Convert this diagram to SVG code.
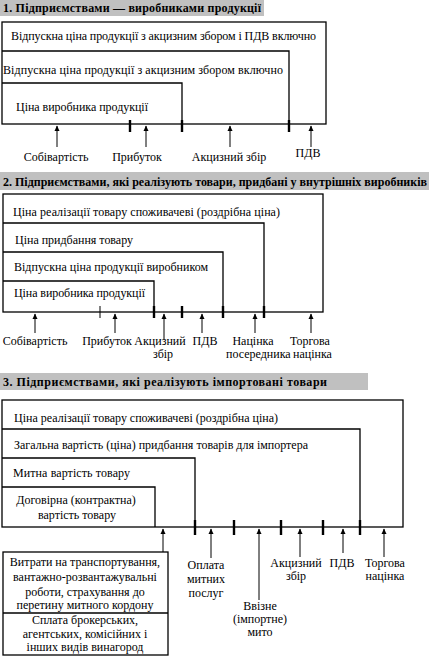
<svg xmlns="http://www.w3.org/2000/svg" width="429" height="658" viewBox="0 0 429 658" font-family="'Liberation Serif', 'DejaVu Serif', serif">
<defs>
<marker id="ah" markerWidth="6" markerHeight="6" refX="5" refY="3" orient="auto" markerUnits="userSpaceOnUse">
<path d="M0,0.5 L5.5,3 L0,5.5 z" fill="#000"/>
</marker>
<style>
text{font-family:'Liberation Serif','DejaVu Serif',serif;font-size:12px;fill:#000}
.t{font-weight:bold}
.c{text-anchor:middle}
.bx{fill:none;stroke:#000;stroke-width:1.3}
.ln{fill:none;stroke:#000;stroke-width:1.3}
.tk{stroke:#000;stroke-width:2.4}
.ar{stroke:#000;stroke-width:1;marker-end:url(#ah)}
.thin{stroke:#000;stroke-width:1}
.hd{fill:#c0c0c0}
</style>
</defs>
<rect width="429" height="658" fill="#fff"/>

<g id="section1">
<g id="s1-title"><rect class="hd" x="0" y="0" width="264" height="16"/><text class="t" x="3" y="12" textLength="258" lengthAdjust="spacing">1. Підприємствами — виробниками продукції</text></g>
<g id="s1-box1"><rect class="bx" x="2" y="22" width="324" height="102"/><text x="11" y="40" textLength="305" lengthAdjust="spacing">Відпускна ціна продукції з акцизним збором і ПДВ включно</text></g>
<g id="s1-box2"><path class="ln" d="M2,51 H289 V132"/><text x="3" y="74" textLength="280" lengthAdjust="spacing">Відпускна ціна продукції з акцизним збором включно</text></g>
<g id="s1-box3"><path class="ln" d="M2,83 H182 V132"/><text x="16" y="111" textLength="132" lengthAdjust="spacing">Ціна виробника продукції</text></g>
</g>

<g id="section2">
<g id="s2-title"><rect class="hd" x="0" y="172" width="429" height="18"/><text class="t" x="3" y="186" textLength="424" lengthAdjust="spacing">2. Підприємствами, які реалізують товари, придбані у внутрішніх виробників</text></g>
<g id="s2-box1"><rect class="bx" x="3" y="194" width="320" height="118"/><text x="13" y="216" textLength="267" lengthAdjust="spacing">Ціна реалізації товару споживачеві (роздрібна ціна)</text></g>
<g id="s2-box2"><path class="ln" d="M3,223 H264 V318"/><text x="15" y="244" textLength="118" lengthAdjust="spacing">Ціна придбання товару</text></g>
<g id="s2-box3"><path class="ln" d="M3,252 H223 V318"/><text x="14" y="271" textLength="194" lengthAdjust="spacing">Відпускна ціна продукції виробником</text></g>
<g id="s2-box4"><path class="ln" d="M3,281 H154 V318"/><text x="14" y="297" textLength="131" lengthAdjust="spacing">Ціна виробника продукції</text></g>
</g>

<g id="section3">
<g id="s3-title"><rect class="hd" x="0" y="373" width="368" height="17"/><text class="t" x="3" y="386" textLength="324" lengthAdjust="spacing">3. Підприємствами, які реалізують імпортовані товари</text></g>
<g id="s3-box1"><rect class="bx" x="2" y="400" width="401" height="127"/><text x="14" y="422" textLength="264" lengthAdjust="spacing">Ціна реалізації товару споживачеві (роздрібна ціна)</text></g>
<g id="s3-box2"><path class="ln" d="M2,429 H360 V535"/><text x="14" y="449" textLength="294" lengthAdjust="spacing">Загальна вартість (ціна) придбання товарів для імпортера</text></g>
<g id="s3-box3"><path class="ln" d="M2,458 H195 V535"/><text x="13" y="477" textLength="117" lengthAdjust="spacing">Митна вартість товару</text></g>
<g id="s3-box4"><path class="ln" d="M2,487 H155 V527"/><text class="c" x="76" y="504">Договірна (контрактна)</text><text class="c" x="77" y="519">вартість товару</text></g>
<g id="s3-costs"><rect class="bx" x="3" y="552" width="165" height="103"/><line class="ln" x1="3" y1="613" x2="168" y2="613"/>
<text class="c" x="85" y="566">Витрати на транспортування,</text>
<text class="c" x="85" y="581">вантажно-розвантажувальні</text>
<text class="c" x="85" y="596">роботи, страхування до</text>
<text class="c" x="85" y="609">перетину митного кордону</text>
<text class="c" x="85" y="624">Сплата брокерських,</text>
<text class="c" x="85" y="638">агентських, комісійних і</text>
<text class="c" x="85" y="651">інших видів винагород</text></g>
</g>

<g id="connectors">
<line class="tk" x1="130" y1="120" x2="130" y2="132"/>
<line class="tk" x1="182" y1="120" x2="182" y2="132"/>
<line class="tk" x1="289" y1="120" x2="289" y2="132"/>
<line class="ar" x1="57" y1="147" x2="57" y2="126"/>
<line class="ar" x1="146" y1="147" x2="146" y2="126"/>
<line class="ar" x1="230" y1="147" x2="230" y2="126"/>
<line class="ar" x1="311" y1="147" x2="311" y2="126"/>

<line class="tk" x1="154" y1="306" x2="154" y2="318"/>
<line class="tk" x1="182" y1="306" x2="182" y2="318"/>
<line class="tk" x1="223" y1="306" x2="223" y2="318"/>
<line class="tk" x1="264" y1="306" x2="264" y2="318"/>
<line class="thin" x1="100" y1="306" x2="100" y2="318"/>
<line class="ar" x1="35" y1="333" x2="35" y2="314"/>
<line class="ar" x1="115" y1="333" x2="115" y2="314"/>
<line class="ar" x1="164" y1="340" x2="164" y2="314"/>
<line class="ar" x1="202" y1="333" x2="202" y2="314"/>
<line class="ar" x1="255" y1="333" x2="255" y2="314"/>
<line class="ar" x1="311" y1="333" x2="311" y2="314"/>

<line class="tk" x1="195" y1="520" x2="195" y2="535"/>
<line class="tk" x1="234" y1="520" x2="234" y2="535"/>
<line class="tk" x1="281" y1="520" x2="281" y2="535"/>
<line class="tk" x1="323" y1="520" x2="323" y2="535"/>
<line class="tk" x1="360" y1="520" x2="360" y2="535"/>
<line class="ar" x1="163" y1="552" x2="163" y2="529"/>
<line class="ar" x1="211" y1="558" x2="211" y2="529"/>
<line class="ar" x1="259" y1="600" x2="259" y2="529"/>
<line class="ar" x1="300" y1="557" x2="300" y2="529"/>
<line class="ar" x1="343" y1="553" x2="343" y2="529"/>
<line class="ar" x1="384" y1="557" x2="384" y2="529"/>
</g>

<g id="labels">
<text class="c" x="56" y="161">Собівартість</text>
<text class="c" x="137" y="161">Прибуток</text>
<text class="c" x="229" y="161">Акцизний збір</text>
<text class="c" x="308" y="157">ПДВ</text>

<text class="c" x="35" y="345">Собівартість</text>
<text class="c" x="107" y="345">Прибуток</text>
<text class="c" x="160" y="345">Акцизний</text>
<text class="c" x="163" y="358">збір</text>
<text class="c" x="205" y="345">ПДВ</text>
<text class="c" x="253" y="345">Націнка</text>
<text x="226" y="358">посередника</text>
<text class="c" x="310" y="345">Торгова</text>
<text x="293" y="358">націнка</text>

<text class="c" x="206" y="569">Оплата</text>
<text class="c" x="206" y="583">митних</text>
<text class="c" x="206" y="597">послуг</text>
<text class="c" x="260" y="610">Ввізне</text>
<text class="c" x="260" y="623">(імпортне)</text>
<text class="c" x="260" y="636">мито</text>
<text class="c" x="296" y="567">Акцизний</text>
<text class="c" x="296" y="580">збір</text>
<text class="c" x="342" y="567">ПДВ</text>
<text class="c" x="385" y="567">Торгова</text>
<text class="c" x="385" y="580">націнка</text>
</g>
</svg>
